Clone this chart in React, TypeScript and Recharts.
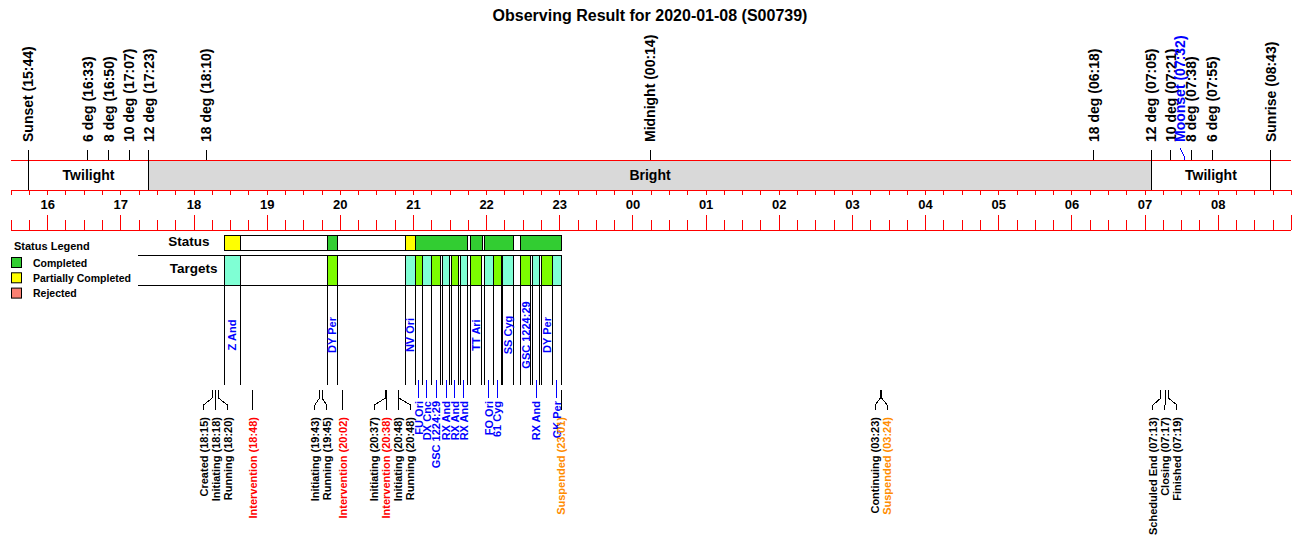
import React from 'react';
import { ComposedChart, XAxis, YAxis, ReferenceArea, ReferenceLine, Scatter, Legend } from 'recharts';

// ---------------- data ----------------
const chartTitle = 'Observing Result for 2020-01-08 (S00739)';

const hourTickLabels = ['16', '17', '18', '19', '20', '21', '22', '23', '00', '01', '02', '03', '04', '05', '06', '07', '08'];

const sunEvents = [
  { label: 'Sunset', time: '15:44' },
  { label: '6 deg', time: '16:33' },
  { label: '8 deg', time: '16:50' },
  { label: '10 deg', time: '17:07' },
  { label: '12 deg', time: '17:23' },
  { label: '18 deg', time: '18:10' },
  { label: 'Midnight', time: '00:14' },
  { label: '18 deg', time: '06:18' },
  { label: '12 deg', time: '07:05' },
  { label: '10 deg', time: '07:21' },
  { label: '8 deg', time: '07:38' },
  { label: '6 deg', time: '07:55' },
  { label: 'Sunrise', time: '08:43' },
];

const moonEvents = [{ label: 'Moonset', time: '07:32' }];

const skyBands = [
  { label: 'Twilight', start: '15:44', end: '17:23', kind: 'twilight' },
  { label: 'Bright', start: '17:23', end: '07:05', kind: 'bright' },
  { label: 'Twilight', start: '07:05', end: '08:43', kind: 'twilight' },
];

const statusLegend = [
  { label: 'Completed', status: 'completed' },
  { label: 'Partially Completed', status: 'partial' },
  { label: 'Rejected', status: 'rejected' },
];

const statusSegments = [
  { status: 'partial', start: '18:25:00', end: '18:38:00' },
  { status: 'completed', start: '19:49:36', end: '19:57:30' },
  { status: 'partial', start: '20:53:18', end: '21:01:30' },
  { status: 'completed', start: '21:01:30', end: '21:44:24' },
  { status: 'completed', start: '21:46:36', end: '21:56:12' },
  { status: 'completed', start: '21:58:24', end: '22:21:48' },
  { status: 'completed', start: '22:27:54', end: '23:01:12' },
];

const targets = [
  { name: 'Z And', start: '18:25:00', end: '18:38:00' },
  { name: 'DY Per', start: '19:49:36', end: '19:57:30' },
  { name: 'NV Ori', start: '20:53:18', end: '21:01:30' },
  { name: 'FU Ori', start: '21:01:30', end: '21:07:12' },
  { name: 'DX Cnc', start: '21:07:12', end: '21:14:54' },
  { name: 'GSC 1224:29', start: '21:14:54', end: '21:22:18' },
  { name: 'RX And', start: '21:23:36', end: '21:29:54' },
  { name: 'RX And', start: '21:31:00', end: '21:37:06' },
  { name: 'RX And', start: '21:38:24', end: '21:44:06' },
  { name: 'TT Ari', start: '21:46:36', end: '21:55:54' },
  { name: 'FO Ori', start: '21:58:06', end: '22:05:24' },
  { name: '61 Cyg', start: '22:05:24', end: '22:11:48' },
  { name: 'SS Cyg', start: '22:13:06', end: '22:22:24' },
  { name: 'GSC 1224:29', start: '22:27:54', end: '22:36:06' },
  { name: 'RX And', start: '22:37:42', end: '22:43:42' },
  { name: 'DY Per', start: '22:45:24', end: '22:53:48' },
  { name: 'GK Per', start: '22:53:48', end: '23:01:12' },
];

const logEvents = [
  { label: 'Created', time: '18:15', kind: 'info' },
  { label: 'Initiating', time: '18:18', kind: 'info' },
  { label: 'Running', time: '18:20', kind: 'info' },
  { label: 'Intervention', time: '18:48', kind: 'intervention' },
  { label: 'Initiating', time: '19:43', kind: 'info' },
  { label: 'Running', time: '19:45', kind: 'info' },
  { label: 'Intervention', time: '20:02', kind: 'intervention' },
  { label: 'Initiating', time: '20:37', kind: 'info' },
  { label: 'Intervention', time: '20:38', kind: 'intervention' },
  { label: 'Initiating', time: '20:48', kind: 'info' },
  { label: 'Running', time: '20:48', kind: 'info' },
  { label: 'Suspended', time: '23:01', kind: 'suspended' },
  { label: 'Continuing', time: '03:23', kind: 'info' },
  { label: 'Suspended', time: '03:24', kind: 'suspended' },
  { label: 'Scheduled End', time: '07:13', kind: 'info' },
  { label: 'Closing', time: '07:17', kind: 'info' },
  { label: 'Finished', time: '07:19', kind: 'info' },
];

// ---------------- layout / style ----------------
const W = 1300;
const H = 560;
const MARGIN = { top: 0, right: 8.6, bottom: 0, left: 11.1 };
const X_DOMAIN: [number, number] = [15.5, 33];
const PX_PER_H = (W - MARGIN.left - MARGIN.right) / (X_DOMAIN[1] - X_DOMAIN[0]);
const FONT = '"Liberation Sans", Arial, Helvetica, sans-serif';
const ROW_RULE_START = '17:14';
const INLINE_MIN_MINUTES = 7.8;
const LABEL_GAP_PX = 12;
const MOON_LABEL_SHIFT_PX = -4;

const C = {
  completed: '#32cd32',
  partial: '#ffff00',
  rejected: '#fa8072',
  aqua: '#7fffd4',
  lawn: '#7cfc00',
  bright: '#d9d9d9',
  axis: '#ff0000',
  blue: '#0000ff',
  info: '#000000',
  intervention: '#ff0000',
  suspended: '#ff8c00',
};

const Y = {
  title: 20.5,
  sunLabel: 142,
  sunTick: 150,
  bandTop: 160,
  bandMid: 175,
  bandBottom: 190,
  upperTickEnd: 195,
  hourLabel: 204.5,
  hourTickTop: 215,
  quarterTickTop: 220,
  axisBottom: 230,
  statusTop: 235,
  statusBottom: 250,
  statusLabel: 245.5,
  targetTop: 255,
  targetBottom: 285,
  targetsLabel: 273,
  inlineLabel: 335,
  targetLineEnd: 385,
  leaderTop: 380,
  leaderBottom: 398,
  narrowLabel: 401,
  evTop: 390,
  evBend1: 398,
  evBend2: 405,
  evBottom: 410,
  evLabel: 417,
};

const toH = (s: string) => {
  const p = s.split(':').map(Number);
  let v = p[0] + (p[1] || 0) / 60 + (p[2] || 0) / 3600;
  if (v < 12) v += 24;
  return v;
};

const statusColor = (s: string) => (C as any)[s] as string;

// ---------------- text shapes ----------------
type TextOpts = { rotate?: boolean; anchor: 'start' | 'middle' | 'end'; size: number; weight?: string; dx?: number; baseline?: string };
const makeText = (o: TextOpts) => (p: any) => {
  const { cx, cy, payload } = p;
  if (cx == null || cy == null || !payload) return <g />;
  const x = cx + (o.dx || 0);
  return (
    <text
      x={x}
      y={cy}
      transform={o.rotate ? `rotate(-90 ${x} ${cy})` : undefined}
      textAnchor={o.anchor}
      dominantBaseline={o.baseline ?? 'central'}
      fontFamily={FONT}
      fontSize={o.size}
      fontWeight={o.weight ?? 'bold'}
      fill={payload.color ?? '#000'}
    >
      {payload.text}
    </text>
  );
};

const seg = (key: string, x1: number, y1: number, x2: number, y2: number, stroke: string) => (
  <ReferenceLine
    key={key}
    segment={[{ x: x1, y: y1 }, { x: x2, y: y2 }]}
    stroke={stroke}
    strokeWidth={1}
    ifOverflow="visible"
    shapeRendering="crispEdges"
  />
);

const StatusLegendBox = () => (
  <svg width={140} height={66} style={{ display: 'block', overflow: 'visible' }}>
    <text x={3} y={14} fontFamily={FONT} fontSize={11} fontWeight="bold" fill="#000">
      Status Legend
    </text>
    {statusLegend.map((s, i) => (
      <g key={i}>
        <rect x={0.5} y={21.5 + i * 15.3} width={10} height={10} fill={statusColor(s.status)} stroke="#000" />
        <text x={22} y={31 + i * 15.2} fontFamily={FONT} fontSize={10.5} fontWeight="bold" fill="#000">
          {s.label}
        </text>
      </g>
    ))}
  </svg>
);

export default function App() {
  const els: React.ReactNode[] = [];
  const t0 = toH(targets[0].start);
  const tEnd = toH(targets[targets.length - 1].end);

  // sky bands
  skyBands.forEach((b, i) => {
    els.push(
      <ReferenceArea
        key={`band${i}`}
        x1={toH(b.start)}
        x2={toH(b.end)}
        y1={Y.bandTop}
        y2={Y.bandBottom}
        fill={b.kind === 'bright' ? C.bright : '#ffffff'}
        fillOpacity={1}
        stroke="none"
        ifOverflow="visible"
      />
    );
  });

  // red axis rules
  [Y.bandTop, Y.bandBottom, Y.axisBottom].forEach((y, i) =>
    els.push(<ReferenceLine key={`rule${i}`} y={y} stroke={C.axis} strokeWidth={1} ifOverflow="visible" shapeRendering="crispEdges" />)
  );

  // quarter-hour ticks
  for (let q = X_DOMAIN[0]; q <= X_DOMAIN[1] + 1e-9; q += 0.25) {
    const isHour = Math.abs(q - Math.round(q)) < 1e-6;
    els.push(seg(`ut${q}`, q, Y.bandBottom, q, Y.upperTickEnd, C.axis));
    els.push(seg(`lt${q}`, q, isHour ? Y.hourTickTop : Y.quarterTickTop, q, Y.axisBottom, C.axis));
  }

  // band edges
  skyBands.forEach((b, i) => {
    els.push(seg(`be${i}a`, toH(b.start), Y.bandTop, toH(b.start), Y.bandBottom, '#000'));
    els.push(seg(`be${i}b`, toH(b.end), Y.bandTop, toH(b.end), Y.bandBottom, '#000'));
  });

  // sun event ticks
  sunEvents.forEach((e, i) => els.push(seg(`st${i}`, toH(e.time), Y.sunTick, toH(e.time), Y.bandTop, '#000')));

  // moon event ticks (with small leader)
  const moonShiftH = MOON_LABEL_SHIFT_PX / PX_PER_H;
  moonEvents.forEach((e, i) => {
    const t = toH(e.time);
    els.push(seg(`mt${i}a`, t, Y.bandTop, t, Y.bandTop - 4, C.blue));
    els.push(seg(`mt${i}b`, t, Y.bandTop - 4, t + moonShiftH, Y.sunTick - 2, C.blue));
  });

  // status row
  els.push(
    <ReferenceArea key="statusBox" x1={t0} x2={tEnd} y1={Y.statusTop} y2={Y.statusBottom} fill="#fff" fillOpacity={1} stroke="#000" ifOverflow="visible" shapeRendering="crispEdges" />
  );
  statusSegments.forEach((s, i) =>
    els.push(
      <ReferenceArea
        key={`ss${i}`}
        x1={toH(s.start)}
        x2={toH(s.end)}
        y1={Y.statusTop}
        y2={Y.statusBottom}
        fill={statusColor(s.status)}
        fillOpacity={1}
        stroke="#000"
        ifOverflow="visible"
        shapeRendering="crispEdges"
      />
    )
  );

  // targets row
  els.push(seg('trTop', toH(ROW_RULE_START), Y.targetTop, tEnd, Y.targetTop, '#000'));
  els.push(seg('trBot', toH(ROW_RULE_START), Y.targetBottom, tEnd, Y.targetBottom, '#000'));
  const inlineLabels: any[] = [];
  const narrowLabels: any[] = [];
  targets.forEach((tg, i) => {
    const a = toH(tg.start);
    const b = toH(tg.end);
    els.push(
      <ReferenceArea
        key={`tg${i}`}
        x1={a}
        x2={b}
        y1={Y.targetTop}
        y2={Y.targetBottom}
        fill={i % 2 === 0 ? C.aqua : C.lawn}
        fillOpacity={1}
        stroke="#000"
        ifOverflow="visible"
        shapeRendering="crispEdges"
      />
    );
    els.push(seg(`tla${i}`, a, Y.targetBottom, a, Y.targetLineEnd, '#000'));
    els.push(seg(`tlb${i}`, b, Y.targetBottom, b, Y.targetLineEnd, '#000'));
    const mid = (a + b) / 2;
    if ((b - a) * 60 >= INLINE_MIN_MINUTES) {
      inlineLabels.push({ x: mid, y: Y.inlineLabel, text: tg.name, color: C.blue });
    } else {
      els.push(seg(`tld${i}`, mid, Y.leaderTop, mid, Y.leaderBottom, C.blue));
      narrowLabels.push({ x: mid, y: Y.narrowLabel, text: tg.name, color: C.blue });
    }
  });

  // log events: spread label positions
  const evT = logEvents.map((e) => toH(e.time));
  const pos = evT.slice();
  const gapH = LABEL_GAP_PX / PX_PER_H;
  for (let it = 0; it < 400; it++) {
    let moved = false;
    for (let i = 1; i < pos.length; i++) {
      const d = pos[i] - pos[i - 1];
      if (d < gapH - 1e-9) {
        const push = (gapH - d) / 2;
        pos[i - 1] -= push;
        pos[i] += push;
        moved = true;
      }
    }
    if (!moved) break;
  }
  const evLabels: any[] = [];
  logEvents.forEach((e, i) => {
    const et = evT[i];
    const lt = pos[i];
    els.push(seg(`ev${i}a`, et, Y.evTop, et, Y.evBend1, '#000'));
    els.push(seg(`ev${i}b`, et, Y.evBend1, lt, Y.evBend2, '#000'));
    els.push(seg(`ev${i}c`, lt, Y.evBend2, lt, Y.evBottom, '#000'));
    evLabels.push({ x: lt, y: Y.evLabel, text: `${e.label} (${e.time})`, color: (C as any)[e.kind] });
  });

  // text data
  const sunLabels = sunEvents.map((e) => ({ x: toH(e.time), y: Y.sunLabel, text: `${e.label} (${e.time})`, color: '#000' }));
  const moonLabels = moonEvents.map((e) => ({ x: toH(e.time) + moonShiftH, y: Y.sunLabel, text: `${e.label} (${e.time})`, color: C.blue }));
  const bandLabels = skyBands.map((b) => ({ x: (toH(b.start) + toH(b.end)) / 2, y: Y.bandMid, text: b.label, color: '#000' }));
  const hourLabels = hourTickLabels.map((h) => ({ x: toH(`${h}:00`), y: Y.hourLabel, text: h, color: '#000' }));

  return (
    <div style={{ position: 'absolute', left: 0, top: 0, width: W, height: H, background: '#fff' }}>
      <ComposedChart width={W} height={H} margin={MARGIN}>
        <XAxis type="number" dataKey="x" domain={X_DOMAIN} hide allowDataOverflow />
        <YAxis type="number" dataKey="y" domain={[0, H]} reversed hide allowDataOverflow />
        {els}
        <Scatter data={bandLabels} isAnimationActive={false} shape={makeText({ anchor: 'middle', size: 14 })} />
        <Scatter data={hourLabels} isAnimationActive={false} shape={makeText({ anchor: 'middle', size: 13 })} />
        <Scatter data={sunLabels} isAnimationActive={false} shape={makeText({ rotate: true, anchor: 'start', size: 14 })} />
        <Scatter data={moonLabels} isAnimationActive={false} shape={makeText({ rotate: true, anchor: 'start', size: 14 })} />
        <Scatter data={[{ x: t0, y: Y.statusLabel, text: 'Status', color: '#000' }]} isAnimationActive={false} shape={makeText({ anchor: 'end', size: 13.5, dx: -15, baseline: 'alphabetic' })} />
        <Scatter data={[{ x: t0, y: Y.targetsLabel, text: 'Targets', color: '#000' }]} isAnimationActive={false} shape={makeText({ anchor: 'end', size: 13.5, dx: -7, baseline: 'alphabetic' })} />
        <Scatter data={inlineLabels} isAnimationActive={false} shape={makeText({ rotate: true, anchor: 'middle', size: 11 })} />
        <Scatter data={narrowLabels} isAnimationActive={false} shape={makeText({ rotate: true, anchor: 'end', size: 11 })} />
        <Scatter data={evLabels} isAnimationActive={false} shape={makeText({ rotate: true, anchor: 'end', size: 11 })} />
        <text x={W / 2} y={Y.title} textAnchor="middle" fontFamily={FONT} fontSize={16} fontWeight="bold" fill="#000">
          {chartTitle}
        </text>
        <Legend
          content={StatusLegendBox}
          layout="horizontal"
          verticalAlign="middle"
          align="center"
          wrapperStyle={{ left: 11, top: 236, width: 140, height: 66 }}
        />
      </ComposedChart>
    </div>
  );
}
